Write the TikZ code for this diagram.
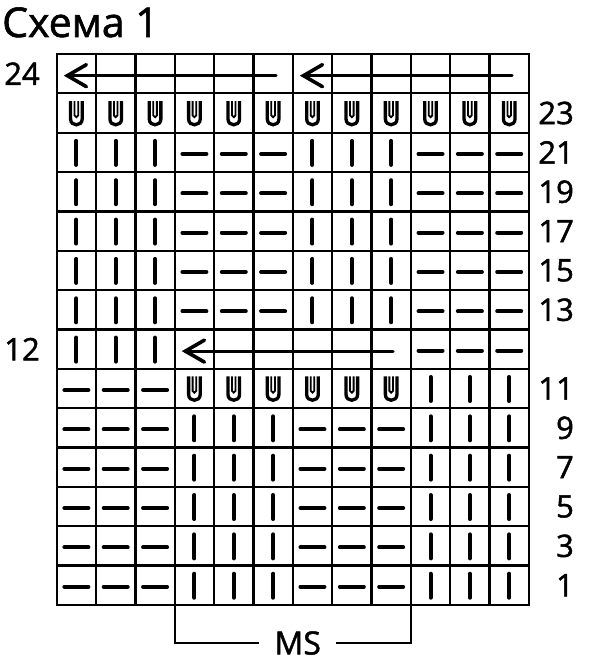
\documentclass[tikz,border=0pt]{standalone}
\usepackage{fontspec}
\setmainfont{Open Sans}[RawFeature={embolden=1.5}]
\usetikzlibrary{arrows.meta}

\begin{document}
\begin{tikzpicture}[x=1pt,y=-1pt,
  gridline/.style={line width=2.2pt},
  rowarrow/.style={line width=3pt,line cap=round},
  num/.style={font=\fontsize{31}{31}\selectfont,inner sep=0pt},
  knit/.pic={\draw[line width=4pt,line cap=round] (0,-11.5) -- (0,12.5);},
  purl/.pic={\draw[line width=4pt,line cap=round] (-12,1.5) -- (12,1.5);},
  loopst/.pic={\draw[line width=3.3pt] (-5.8,-12) -- (-5.8,6) .. controls (-5.8,13.7) and (5.8,13.7) .. (5.8,6) -- (5.8,-12);
    \draw[line width=1.8pt] (-1.8,-12) -- (-1.8,2.4) .. controls (-1.8,4.8) and (1.8,4.8) .. (1.8,2.4) -- (1.8,-12);}]
\useasboundingbox (0,0) rectangle (612,669);
\foreach \i in {0,...,11} \foreach \j in {0,...,13}
  \coordinate (c-\i-\j) at ({56.7+(\i+0.5)*39.35},{54+(\j+0.5)*39.35});
\foreach \i in {0,...,12} \draw[gridline] ({56.7+\i*39.35},54) -- ({56.7+\i*39.35},604.9);
\foreach \j in {0,...,14} \draw[gridline] (56.7,{54+\j*39.35}) -- (528.9,{54+\j*39.35});
\draw[gridline] (56.7,54) rectangle (528.9,604.9);
\node[font=\fontsize{41}{41}\selectfont,anchor=base west,inner sep=0pt] (title) at (2,37) {Схема 1};
\foreach \i in {0,...,11} \pic at (c-\i-1) {loopst};
\foreach \j in {2,...,6} {
  \foreach \i in {0,1,2,6,7,8} \pic at (c-\i-\j) {knit};
  \foreach \i in {3,4,5,9,10,11} \pic at (c-\i-\j) {purl};
}
\foreach \i in {0,1,2} \pic at (c-\i-7) {knit};
\foreach \i in {9,10,11} \pic at (c-\i-7) {purl};
\foreach \i in {0,1,2} \pic at (c-\i-8) {purl};
\foreach \i in {3,...,8} \pic at (c-\i-8) {loopst};
\foreach \i in {9,10,11} \pic at (c-\i-8) {knit};
\foreach \j in {9,...,13} {
  \foreach \i in {0,1,2,6,7,8} \pic at (c-\i-\j) {purl};
  \foreach \i in {3,4,5,9,10,11} \pic at (c-\i-\j) {knit};
}
\foreach \a/\b/\r/\e in {5/0/0/3,11/6/0/3,8/3/7/2} {
  \coordinate (tail-\b) at ([shift={(\e,2)}]c-\a-\r);
  \coordinate (tip-\b) at ([shift={(-9,2)}]c-\b-\r);
  \draw[rowarrow] (tail-\b) -- (tip-\b);
  \draw[rowarrow,line width=3.6pt,line join=miter] ([shift={(19,-11)}]tip-\b) -- (tip-\b) -- ([shift={(19,11)}]tip-\b);
}
\node[num,anchor=east] (lbl-24) at ([xshift=-36.4]c-0-0) {24};
\node[num,anchor=east] (lbl-12) at ([xshift=-36.4]c-0-7) {12};
\foreach \j/\n in {1/23,2/21,3/19,4/17,5/15,6/13,8/11,9/9,10/7,11/5,12/3,13/1}
  \node[num,anchor=east] (lbl-\n) at ([xshift=64.8]c-11-\j) {\n};
\coordinate (msl) at (174.75,604.9);
\coordinate (msr) at (410.85,604.9);
\node[num,font=\fontsize{32}{32}\selectfont,inner xsep=15pt] (ms) at (297.7,643) {MS};
\draw[gridline] (msl) |- (ms.west);
\draw[gridline] (msr) |- (ms.east);
\end{tikzpicture}
\end{document}
